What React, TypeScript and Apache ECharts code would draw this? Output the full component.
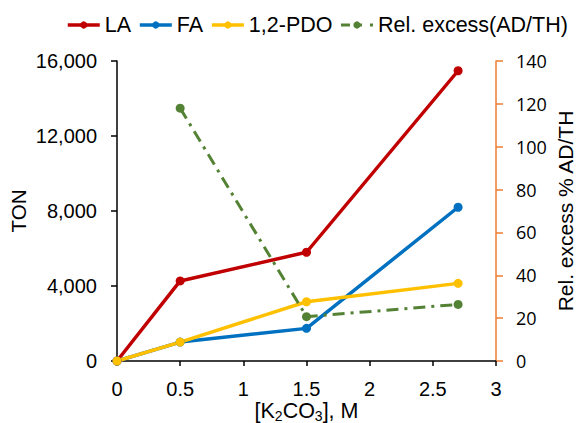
import React, { useEffect, useRef } from "react";
import * as echarts from "echarts";

const xValues = [0, 0.5, 1.5, 2.7];
const laValues = [0, 4270, 5800, 15480];
const faValues = [0, 1010, 1740, 8200];
const pdoValues = [0, 1010, 3160, 4140];
const relX = [0.5, 1.5, 2.7];
const relValues = [118, 20.7, 26.4];

const FONT = "'Liberation Sans', Arial, sans-serif";

function pairs(xs: number[], ys: number[]) {
  return xs.map((x, i) => [x, ys[i]]);
}

export default function App() {
  const ref = useRef<HTMLDivElement>(null);
  useEffect(() => {
    if (!ref.current) return;
    const chart = echarts.init(ref.current, null, { renderer: "svg" });
    const lineSeries = (name: string, data: number[][], color: string, extra: any = {}) => ({
      name,
      type: "line",
      data,
      symbol: "circle",
      symbolSize: 9,
      itemStyle: { color },
      lineStyle: { color, width: 3.5 },
      ...extra,
    });
    chart.setOption({
      animation: false,
      backgroundColor: "#fff",
      textStyle: { fontFamily: FONT },
      legend: {
        left: 61,
        top: 9,
        itemWidth: 32,
        itemHeight: 9,
        itemGap: 7,
        lineStyle: { width: 3.5 },
        textStyle: { fontSize: 21.5, color: "#000", fontFamily: FONT },
        data: [
          { name: "LA" },
          { name: "FA" },
          { name: "1,2-PDO" },
          { name: "Rel. excess(AD/TH)", lineStyle: { width: 3, type: [9, 8, 4, 8] } },
        ],
      },
      grid: { left: 117, right: 83, top: 61, bottom: 62, containLabel: false, outerBoundsMode: "none" },
      xAxis: {
        type: "value",
        min: 0,
        max: 3,
        interval: 0.5,
        name: "[K{s|2}CO{s|3}], M",
        nameLocation: "middle",
        nameGap: 38,
        nameMoveOverlap: false,
        nameTextStyle: {
          fontSize: 21.5,
          color: "#000",
          fontFamily: FONT,
          lineHeight: 24,
          rich: {
            s: { fontSize: 14, lineHeight: 12, verticalAlign: "bottom", fontFamily: FONT, color: "#000" },
          },
        },
        axisLine: { lineStyle: { color: "#000", width: 1.5 } },
        axisTick: { length: 5, lineStyle: { color: "#000", width: 1.5 } },
        axisLabel: { fontSize: 20, color: "#000", margin: 18, fontFamily: FONT },
        splitLine: { show: false },
      },
      yAxis: [
        {
          type: "value",
          min: 0,
          max: 16000,
          interval: 4000,
          name: "TON",
          nameLocation: "middle",
          nameGap: 88,
          nameMoveOverlap: false,
          nameTextStyle: { fontSize: 20.5, color: "#000", fontFamily: FONT },
          axisLine: { show: true, lineStyle: { color: "#000", width: 1.5 } },
          axisTick: { show: true, length: 6, lineStyle: { color: "#000", width: 1.5 } },
          axisLabel: {
            fontSize: 20,
            color: "#000",
            margin: 20,
            fontFamily: FONT,
            formatter: (v: number) => v.toLocaleString("en-US"),
          },
          splitLine: { show: false },
        },
        {
          type: "value",
          position: "right",
          min: 0,
          max: 140,
          interval: 20,
          name: "Rel. excess % AD/TH",
          nameLocation: "middle",
          nameGap: 59,
          nameMoveOverlap: false,
          nameTextStyle: { fontSize: 21, color: "#000", fontFamily: FONT },
          axisLine: { show: true, lineStyle: { color: "#ED7D31", width: 1.5 } },
          axisTick: { show: true, length: 7, lineStyle: { color: "#ED7D31", width: 1.5 } },
          axisLabel: { fontSize: 18, color: "#000", margin: 20, fontFamily: "'Open Sans', sans-serif" },
          splitLine: { show: false },
        },
      ],
      series: [
        lineSeries("LA", pairs(xValues, laValues), "#C00000"),
        lineSeries("FA", pairs(xValues, faValues), "#0070C0"),
        lineSeries("1,2-PDO", pairs(xValues, pdoValues), "#FFC000"),
        lineSeries("Rel. excess(AD/TH)", pairs(relX, relValues), "#548235", {
          yAxisIndex: 1,
          symbolSize: 9,
          lineStyle: { color: "#548235", width: 3, type: [12, 6, 3, 6] },
        }),
      ],
    });
    return () => chart.dispose();
  }, []);
  return (
    <div
      ref={ref}
      style={{ position: "fixed", left: 0, top: 0, width: 579, height: 423, background: "#fff" }}
    />
  );
}
